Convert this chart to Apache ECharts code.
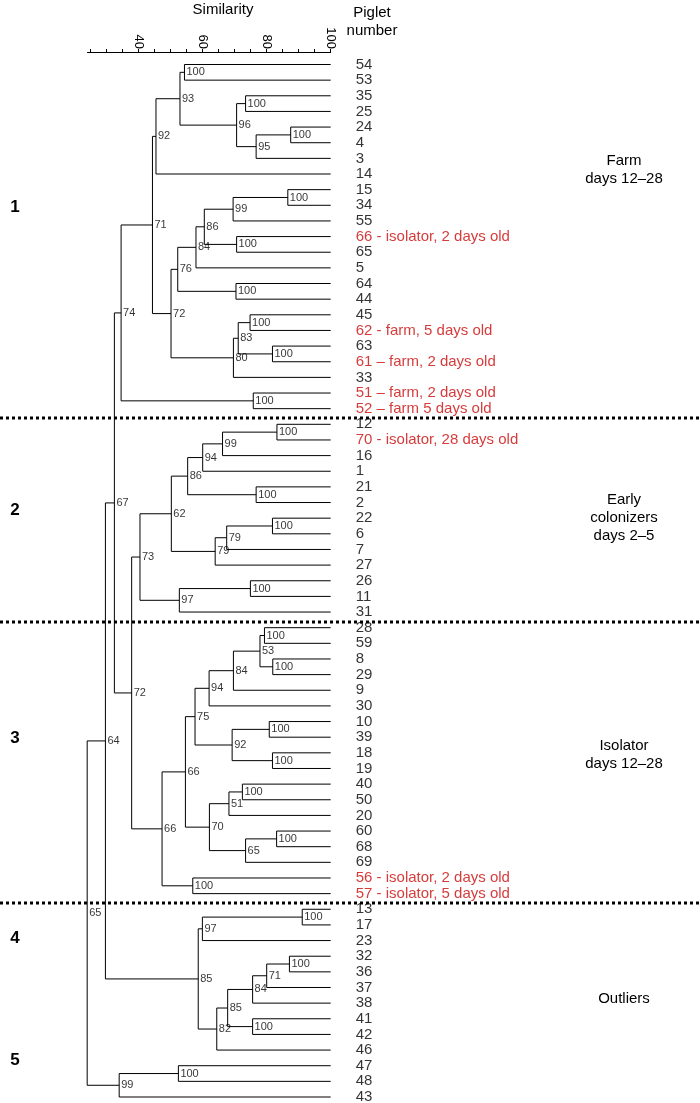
<!DOCTYPE html>
<html><head><meta charset="utf-8">
<script src="https://cdn.jsdelivr.net/npm/echarts@6/dist/echarts.min.js"></script>
<style>html,body{margin:0;padding:0;background:#fff}#c{width:700px;height:1103px}</style>
</head><body><div id="c"></div>
<script>
// ---------------- DATA ----------------
const leaves = ['54','53','35','25','24','4','3','14','15','34','55','66','65','5','64','44','45','62','63','61','33','51','52',
  '12','70','16','1','21','2','22','6','7','27','26','11','31',
  '28','59','8','29','9','30','10','39','18','19','40','50','20','60','68','69','56','57',
  '13','17','23','32','36','37','38','41','42','46','47','48','43'];
const leafNotes = {
  '66':' - isolator, 2 days old', '62':' - farm, 5 days old', '61':' \u2013 farm, 2 days old',
  '51':' \u2013 farm, 2 days old', '52':' \u2013 farm 5 days old', '70':' - isolator, 28 days old',
  '56':' - isolator, 2 days old', '57':' - isolator, 5 days old'
};
// [node id, child A, child B, similarity (%), bootstrap support]
const merges = [
  ['a1','54','53',54.3,100],['a2','35','25',73.4,100],['a3','24','4',87.5,100],['a4','a3','3',76.7,95],
  ['a5','a2','a4',70.6,96],['a6','a1','a5',52.9,93],['a7','a6','14',45.4,92],['a8','15','34',86.6,100],
  ['a9','a8','55',69.5,99],['a10','66','65',70.6,100],['a11','a9','a10',60.5,86],['a12','a11','5',57.9,84],
  ['a13','64','44',70.4,100],['a14','a12','a13',52.2,76],['a15','45','62',74.8,100],['a16','63','61',81.8,100],
  ['a17','a15','a16',71.1,83],['a18','a17','33',69.6,80],['a19','a14','a18',50.1,72],['a20','a7','a19',44.3,71],
  ['a21','51','52',75.8,100],['a22','a20','a21',34.5,74],
  ['b1','12','70',83.2,100],['b2','b1','16',66.2,99],['b3','b2','1',60.0,94],['b4','21','2',76.7,100],
  ['b5','b3','b4',55.3,86],['b6','22','6',81.8,100],['b7','b6','7',67.5,79],['b8','b7','27',63.9,79],
  ['b9','b5','b8',50.2,62],['b10','26','11',74.9,100],['b11','b10','31',52.7,97],['b12','b9','b11',40.4,73],
  ['c1','28','59',79.3,100],['c2','8','29',81.9,100],['c3','c1','c2',77.9,53],['c4','c3','9',69.6,84],
  ['c5','c4','30',62.0,94],['c6','10','39',80.8,100],['c7','18','19',81.8,100],['c8','c6','c7',69.2,92],
  ['c9','c5','c8',57.6,75],['c10','40','50',72.4,100],['c11','c10','20',68.2,51],['c12','60','68',83.1,100],
  ['c13','c12','69',73.4,65],['c14','c11','c13',62.1,70],['c15','c9','c14',54.6,66],['c16','56','57',56.9,100],
  ['c17','c15','c16',47.3,66],['c18','b12','c17',37.8,72],['c19','a22','c18',32.4,67],
  ['d1','13','17',91.1,100],['d2','d1','23',59.9,97],['d3','32','36',87.1,100],['d4','d3','37',80.0,71],
  ['d5','d4','38',75.6,84],['d6','41','42',75.6,100],['d7','d5','d6',67.8,85],['d8','d7','46',64.4,82],
  ['d9','d2','d8',58.6,85],['e0','c19','d9',29.6,64],['e1','47','48',52.4,100],['e2','e1','43',33.9,99],
  ['root','e0','e2',23.9,65]
];
const labelTicks = [40,60,80,100];
const minorTicks = [25,30,35,40,45,50,55,60,65,70,75,80,85,90,95,100];
const groupBreakAfter = ['52','31','57'];
const groupNumbers = ['1','2','3','4','5'];
const groupNames = ['Farm\ndays 12\u201328','Early\ncolonizers\ndays 2\u20135','Isolator\ndays 12\u201328','Outliers'];

// ---------------- BUILD ----------------
const FONT = '"Liberation Sans", Arial, Helvetica, sans-serif';
const RED = '#cc0a0a';
const pos = {};
leaves.forEach((l,i)=>{ pos[l] = {x:100, y:i}; });
const segs = [], supports = [];
merges.forEach(([id,a,b,s,sup])=>{
  const A = pos[a], B = pos[b];
  const y = (A.y + B.y)/2;
  pos[id] = {x:s, y:y};
  segs.push({coords:[[A.x,A.y],[s,A.y],[s,B.y],[B.x,B.y]]});
  supports.push({value:[s,y], sup:sup});
});
const leafData = leaves.map((l,i)=>{
  const note = leafNotes[l];
  return {value:[100,i], name:l + (note||''), label: note ? {color:RED} : undefined};
});

const chart = echarts.init(document.getElementById('c'), null, {renderer:'canvas'});
chart.setOption({
  animation:false,
  backgroundColor:'#fff',
  grid:{left:87.5, right:369.3, top:64.5, bottom:6, containLabel:false},
  xAxis:{type:'value', position:'top', min:24, max:100, offset:12.5,
    axisLine:{show:true, onZero:false, lineStyle:{color:'#000', width:1}},
    axisTick:{show:true, customValues:minorTicks, length:3, inside:false, lineStyle:{color:'#000'}},
    axisLabel:{show:true, customValues:labelTicks, rotate:90, margin:3, fontSize:13, color:'#000', fontFamily:FONT},
    splitLine:{show:false}},
  yAxis:{type:'value', inverse:true, min:0, max:leaves.length-1, show:false},
  series:[
    {type:'lines', coordinateSystem:'cartesian2d', polyline:true, silent:true, clip:false,
     data:segs, lineStyle:{color:'#000', width:1, opacity:1}},
    {type:'scatter', symbolSize:0, silent:true, clip:false, data:supports,
     label:{show:true, position:'right', distance:2, fontSize:11, color:'#000', fontFamily:FONT,
       formatter:p=>String(p.data.sup)}},
    {type:'scatter', symbolSize:0, silent:true, clip:false, data:leafData,
     label:{show:true, position:'right', distance:25, fontSize:15, color:'#000', fontFamily:FONT,
       formatter:p=>p.name}}
  ]
});

// separators and annotations
const gfx = [];
groupBreakAfter.forEach(l=>{
  const i = leaves.indexOf(l);
  const y = Math.round(chart.convertToPixel({gridIndex:0},[100, i+0.5])[1]) + 2;
  gfx.push({type:'line', shape:{x1:0,y1:y,x2:700,y2:y}, style:{stroke:'#000', lineWidth:3, lineDash:[3,3]}});
});
const txt = (t,x,y,opt)=>Object.assign({type:'text', x:x, y:y,
  style:{text:t, fill:'#000', font:'15px '+FONT, textAlign:'center', textVerticalAlign:'middle', lineHeight:18}}, opt||{});
gfx.push(txt('Similarity',223,10));
gfx.push(txt('Piglet\nnumber',372,22));
const numY = [207,510,738,938,1060];
groupNumbers.forEach((g,k)=>{
  gfx.push({type:'text', x:15, y:numY[k], style:{text:g, fill:'#000', font:'bold 17px '+FONT, textAlign:'center', textVerticalAlign:'middle'}});
});
const nameY = [170,518,755,999];
groupNames.forEach((g,k)=>gfx.push(txt(g,624,nameY[k])));
chart.setOption({graphic:gfx});
</script>
</body></html>
